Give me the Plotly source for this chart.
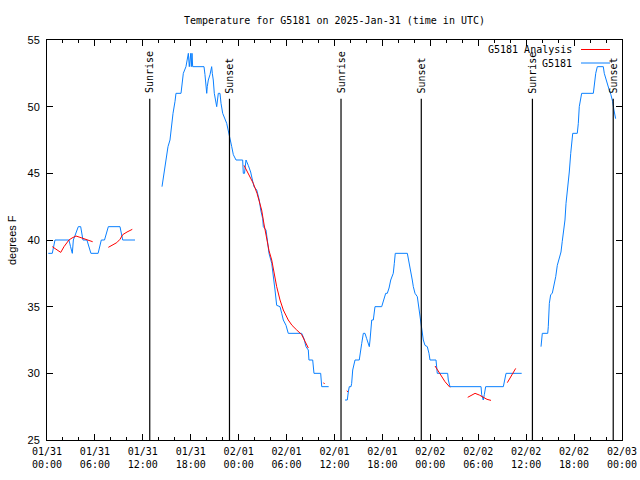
import plotly.graph_objects as go
import pandas as pd

START = pd.Timestamp("2025-01-31 00:00")
END = pd.Timestamp("2025-02-03 00:00")

# Observed temperatures (hours since 01/31 00:00 UTC, degrees F); None = gap
obs_hours = [0.16, 0.66, 1.0, 2.75, 2.95, 3.17, 3.3, 3.63, 3.92, 4.22, 4.5, 5.0, 5.5, 6.4, 6.8, 7.2, 7.68, 9.14, 9.27, 9.48, 11.02,
             None,
             14.4, 14.78, 14.9, 15.15, 15.4, 15.6, 15.78, 16.03, 16.15, 16.78, 17.07, 17.4, 17.62, 17.7, 17.82, 18.0, 18.07,
             18.16, 18.24, 19.66, 19.78, 19.87, 20.0, 20.07, 20.2, 20.41, 20.62, 20.7, 20.82, 20.95, 21.08, 21.25, 21.45,
             21.66, 21.79, 22.0, 22.5, 22.7, 22.83, 23.13, 23.33, 23.67, 24.5, 24.58, 24.73, 24.92, 25.2, 25.5, 25.76, 25.92,
             26.26, 26.58, 26.76, 27.01, 27.09, 27.42, 27.59, 27.8, 28.14, 28.34, 28.55, 28.76, 29.18, 29.39, 29.59, 29.93,
             30.21, 31.89, 32.18, 32.43, 32.72, 32.8, 33.27, 33.43, 34.27, 34.4, 35.27,
             None,
             37.32, 37.6, 37.73, 37.85, 38.07, 38.15, 38.28, 38.44, 38.57, 39.1, 39.28, 39.41, 39.61, 39.82, 40.03, 40.23,
             40.36, 40.45, 40.53, 40.66, 40.86, 41.07, 41.91, 42.04, 42.24, 42.41, 42.61, 42.83, 43.04, 43.36, 43.49, 43.61,
             45.12, 45.29, 45.45, 45.58, 45.74, 45.87, 46.08, 46.37, 46.49, 46.71, 46.92, 47.12, 47.33, 47.62, 47.83, 47.96,
             48.71, 48.8, 48.87, 50.17, 50.25, 50.46, 54.35, 54.43, 54.63, 54.76, 54.93, 57.14, 57.35, 57.48, 59.44,
             None,
             61.86, 62.02, 62.7, 62.77, 62.9, 63.07, 63.27, 63.52, 63.7, 63.9, 64.15, 64.36, 64.52, 64.74, 64.86, 64.99,
             65.15, 65.28, 65.4, 65.58, 65.7, 65.83, 66.4, 66.53, 66.65, 66.83, 66.95, 68.41, 68.53, 68.71, 68.91, 69.66,
             69.78, 70.0, 70.2, 70.4, 70.61, 70.82, 70.99, 71.2]
obs_temps = [39, 39, 40, 40, 39.5, 39, 40, 40.5, 41, 41, 40, 40, 39, 39, 40, 40, 41, 41, 40.5, 40, 40,
             None,
             44, 45.4, 46, 47, 47.5, 48.6, 49.5, 50.4, 51, 51, 52.5, 53, 54, 54, 53, 54, 53,
             54, 53, 53, 52.4, 51.75, 51, 51.5, 52, 52.4, 53, 52.5, 52, 51, 50.4, 50, 51,
             51, 50.25, 49.5, 48.75, 48.25, 47.75, 47, 46.4, 46, 46, 45, 45, 46, 45.6, 45.1, 44.4, 44,
             43.75, 43, 42.25, 41.6, 41, 40.75, 40, 39, 38.25, 37.4, 36.25, 35.1, 35, 34.5, 34, 33.6,
             33, 33, 32.6, 32, 31.75, 31, 31, 30, 30, 29, 29,
             None,
             28, 28, 28.6, 29, 29, 29.25, 30.25, 30.75, 31, 31, 32, 32.25, 33, 33, 32.6, 32.25,
             32, 32.5, 33.4, 34, 34, 35, 35, 35.25, 35.75, 36, 36, 36.4, 37, 37.5, 38.25, 39,
             39, 38.5, 37.9, 37.5, 37, 36.5, 36, 35.75, 35.25, 34.25, 33.25, 32.5, 32.1, 32, 31.5, 31,
             31, 30.5, 30, 30, 29.5, 29, 29, 28.4, 28, 28.4, 29, 29, 29.5, 30, 30,
             None,
             32, 33, 33, 33.5, 35.25, 35.9, 36, 36.6, 37.25, 38.1, 38.75, 39.1, 39.9, 40.75, 41.5, 42.75,
             43.5, 44.5, 45.1, 46.5, 47.5, 48, 48, 48.75, 50, 50.6, 51, 51, 51.75, 52.5, 53, 53,
             52.5, 52, 51.75, 51.25, 50.9, 50.4, 49.75, 49.1]

# Analysis temperatures (hours since 01/31 00:00 UTC, degrees F); None = gap
ana_hours = [0.66, 1.13, 1.72, 2.13, 2.75, 3.13, 3.63, 4.13, 4.97, 5.72,
             None,
             7.68, 8.14, 8.73, 9.14, 9.48, 10.02, 10.68,
             None,
             24.67, 25.17, 25.83, 26.3, 26.88, 27.17, 27.5, 27.8, 28.14, 28.42, 28.76, 29.18, 29.59, 30.21, 30.68,
             31.27, 31.68, 31.89, 32.31, 32.72,
             None,
             34.63, 34.75,
             None,
             37.55, 37.67,
             None,
             48.59, 48.9, 49.21, 49.84, 50.46,
             None,
             52.68, 53.1, 53.6, 54.14, 54.64, 55.1, 55.6,
             None,
             57.64, 58.1, 58.69]
ana_temps = [39.5, 39.3, 39.07, 39.5, 40, 40.15, 40.3, 40.2, 40, 39.87,
             None,
             39.45, 39.6, 39.8, 40.05, 40.4, 40.6, 40.8,
             None,
             45.6, 45.0, 44.25, 43.5, 42.25, 41.2, 40, 39.2, 38.5, 37.5, 36.5, 35.5, 34.75, 34.0, 33.6,
             33.25, 33.05, 32.9, 32.4, 31.9,
             None,
             29.3, 29.2,
             None,
             28.7, 28.6,
             None,
             30.55, 30.25, 30.0, 29.37, 28.95,
             None,
             28.2, 28.35, 28.5, 28.37, 28.17, 28.05, 27.97,
             None,
             29.3, 29.8, 30.37]

# Sunrise / sunset markers
sun_times = ["2025-01-31 12:52", "2025-01-31 22:51", "2025-02-01 12:49",
             "2025-02-01 22:52", "2025-02-02 12:47", "2025-02-02 22:54"]
sun_labels = ["Sunrise", "Sunset", "Sunrise", "Sunset", "Sunrise", "Sunset"]

x_tick_times = ["2025-01-31 00:00", "2025-01-31 06:00", "2025-01-31 12:00", "2025-01-31 18:00",
                "2025-02-01 00:00", "2025-02-01 06:00", "2025-02-01 12:00", "2025-02-01 18:00",
                "2025-02-02 00:00", "2025-02-02 06:00", "2025-02-02 12:00", "2025-02-02 18:00",
                "2025-02-03 00:00"]
x_tick_labels = ["01/31<br>00:00", "01/31<br>06:00", "01/31<br>12:00", "01/31<br>18:00",
                 "02/01<br>00:00", "02/01<br>06:00", "02/01<br>12:00", "02/01<br>18:00",
                 "02/02<br>00:00", "02/02<br>06:00", "02/02<br>12:00", "02/02<br>18:00",
                 "02/03<br>00:00"]
y_tick_values = [25, 30, 35, 40, 45, 50, 55]

RED = "#ff0000"
BLUE = "#0a80ff"
MONO = "DejaVu Sans Mono"
SANS = "Liberation Sans"


def to_times(hours):
    return [None if h is None else START + pd.Timedelta(hours=h) for h in hours]


fig = go.Figure()
fig.add_trace(go.Scatter(x=to_times(obs_hours), y=obs_temps, mode="lines", name="G5181",
                         line=dict(color=BLUE, width=1), showlegend=False))
fig.add_trace(go.Scatter(x=to_times(ana_hours), y=ana_temps, mode="lines", name="G5181 Analysis",
                         line=dict(color=RED, width=1), showlegend=False))

for t, lab in zip(sun_times, sun_labels):
    fig.add_shape(type="line", xref="x", yref="y", x0=t, x1=t, y0=25, y1=50.6,
                  line=dict(color="black", width=1.2))
    fig.add_annotation(x=t, y=50.85, xref="x", yref="y", text=lab, textangle=-90,
                       showarrow=False, xanchor="center", yanchor="bottom",
                       font=dict(family=MONO, size=10, color="black"))

# legend (gnuplot style: text right, sample line to the right)
legend_items = [("G5181 Analysis", RED), ("G5181", BLUE)]
for i, (name, col) in enumerate(legend_items):
    py = 49.5 + 13.5 * i
    yp = (440 - py) / 400
    fig.add_annotation(x=(574 - 47) / 575, y=yp, xref="paper", yref="paper", text=name,
                       showarrow=False, xanchor="right", yanchor="middle",
                       font=dict(family=MONO, size=10, color="black"))
    fig.add_shape(type="line", xref="paper", yref="paper",
                  x0=(581 - 47) / 575, x1=(610 - 47) / 575, y0=yp, y1=yp,
                  line=dict(color=col, width=1))

fig.add_annotation(x=(12 - 47) / 575, y=0.5, xref="paper", yref="paper", text="degrees F",
                   textangle=-90, showarrow=False, xanchor="center", yanchor="middle",
                   font=dict(family=SANS, size=11, color="black"))

fig.update_layout(
    width=640, height=480,
    margin=dict(l=47, r=18, t=40, b=40, autoexpand=False),
    paper_bgcolor="white", plot_bgcolor="white",
    title=dict(text="Temperature for G5181 on 2025-Jan-31 (time in UTC)",
               x=0.5, xref="paper", y=1 - 20 / 480, yref="container", yanchor="middle",
               font=dict(family=MONO, size=10, color="black")),
    showlegend=False,
)
fig.update_xaxes(
    type="date", range=[START, END], automargin=False,
    tickvals=x_tick_times, ticktext=x_tick_labels,
    ticks="inside", ticklen=6, tickcolor="black", tickwidth=1,
    showline=True, linecolor="black", linewidth=1, mirror="ticks",
    showgrid=False, zeroline=False, ticklabelstandoff=2,
    tickfont=dict(family=MONO, size=10, color="black"),
    minor=dict(ticks="inside", dtick=2 * 3600 * 1000, ticklen=3, tickcolor="black", showgrid=False),
)
fig.update_yaxes(
    range=[25, 55], tickvals=y_tick_values, automargin=False,
    ticks="inside", ticklen=6, tickcolor="black", tickwidth=1,
    showline=True, linecolor="black", linewidth=1, mirror="ticks",
    showgrid=False, zeroline=False, ticklabelstandoff=4,
    tickfont=dict(family=SANS, size=11, color="black"),
)

# remove the browser's default 8px page margin so the 640x480 figure fills the window
fig.write_html("out.html",
               config={"displayModeBar": False},
               post_script="document.body.style.margin='0';document.body.style.overflow='hidden';")
